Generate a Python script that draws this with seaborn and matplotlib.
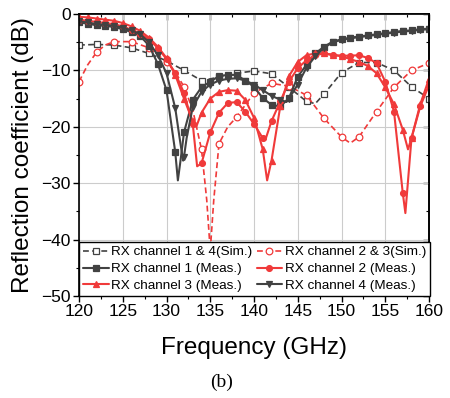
import numpy as np
import pandas as pd
import matplotlib
matplotlib.use("Agg")
import matplotlib.pyplot as plt
import seaborn as sns
from matplotlib.ticker import MultipleLocator

# ---------------- data ----------------
f_sim14 = [120, 122, 124, 126, 128, 130, 132, 134, 136, 138, 140, 142, 144, 146, 147, 148, 150, 152, 154, 156, 158, 160]
s_sim14 = [-5.5, -5.4, -5.5, -6.0, -7.0, -8.3, -10.0, -11.8, -11.2, -10.5, -10.1, -10.6, -13.0, -15.5, -15.9, -14.2, -10.4, -8.6, -8.6, -10.0, -12.9, -15.0]

f_sim23 = [120, 121, 122, 123, 124, 126, 128, 130, 131, 132, 133, 134, 134.6, 135, 135.4, 136, 137, 138, 140, 142, 144, 146, 148, 150, 151, 152, 154, 156, 158, 160]
s_sim23 = [-12.0, -9.0, -6.8, -5.5, -4.9, -4.9, -6.0, -8.5, -10.3, -12.9, -17.0, -24.0, -33.0, -42.0, -33.0, -23.0, -20.0, -18.3, -14.0, -12.3, -12.8, -14.4, -18.5, -21.8, -22.9, -21.8, -17.3, -13.0, -10.0, -8.7]

f_ch1 = [120, 121, 122, 123, 124, 125, 126, 127, 128, 129, 130, 131, 131.3, 131.6, 132, 133, 134, 135, 136, 137, 138, 139, 140, 141, 142, 143, 144, 145, 146, 147, 148, 149, 150, 151, 152, 153, 154, 155, 156, 157, 158, 159, 160]
s_ch1 = [-1.5, -1.7, -2.0, -2.1, -2.3, -2.7, -3.2, -3.9, -5.6, -8.8, -13.5, -24.5, -29.5, -26.0, -21.0, -15.2, -13.0, -12.0, -11.0, -10.8, -10.8, -11.8, -12.9, -14.9, -16.1, -16.4, -14.9, -11.1, -9.0, -7.0, -5.8, -4.9, -4.5, -4.2, -4.0, -3.8, -3.6, -3.4, -3.2, -3.0, -2.9, -2.7, -2.6]

f_ch2 = [120, 121, 122, 123, 124, 125, 126, 127, 128, 129, 130, 131, 132, 133, 133.5, 134, 135, 136, 137, 138, 139, 140, 141, 141.3, 142, 143, 144, 145, 146, 147, 148, 149, 150, 151, 152, 153, 154, 155, 156, 157, 157.3, 158, 159, 160]
s_ch2 = [-1.0, -1.2, -1.4, -1.6, -1.8, -2.2, -2.8, -3.5, -4.5, -6.0, -8.0, -10.5, -14.0, -19.5, -27.0, -26.5, -21.0, -17.5, -15.8, -15.6, -17.3, -19.5, -22.0, -22.3, -19.0, -15.5, -12.0, -9.6, -8.2, -7.3, -7.0, -7.3, -7.4, -7.4, -7.3, -7.8, -8.7, -12.0, -17.3, -31.7, -35.3, -22.0, -16.4, -12.6]

f_ch3 = [120, 121, 122, 123, 124, 125, 126, 127, 128, 129, 130, 131, 132, 133, 133.4, 134, 135, 136, 137, 138, 139, 140, 141, 141.5, 142, 143, 144, 145, 146, 147, 148, 149, 150, 151, 152, 153, 154, 155, 156, 157, 157.6, 158, 159, 160]
s_ch3 = [-0.5, -0.6, -0.8, -1.0, -1.2, -1.6, -2.2, -3.0, -4.2, -5.8, -7.8, -10.8, -15.0, -19.0, -20.0, -17.5, -15.0, -13.8, -13.5, -13.6, -15.2, -18.4, -24.0, -29.5, -26.0, -16.4, -11.0, -8.5, -7.3, -7.0, -7.0, -7.2, -7.5, -8.0, -8.5, -9.2, -10.5, -13.0, -16.0, -20.5, -24.0, -22.0, -16.0, -11.5]

f_ch4 = [120, 121, 122, 123, 124, 125, 126, 127, 128, 129, 130, 131, 131.5, 131.9, 132, 132.3, 133, 134, 135, 136, 137, 138, 139, 140, 141, 142, 143, 143.7, 144, 145, 146, 147, 148, 149, 150, 151, 152, 153, 154, 155, 156, 157, 158, 159, 160]
s_ch4 = [-1.3, -1.5, -1.8, -1.9, -2.1, -2.4, -2.9, -3.6, -5.0, -7.3, -10.5, -16.7, -22.0, -26.0, -25.3, -22.0, -16.5, -13.8, -12.5, -11.8, -11.5, -11.4, -11.8, -12.5, -13.5, -14.5, -15.2, -15.6, -15.0, -12.5, -9.5, -7.5, -6.0, -5.0, -4.6, -4.3, -4.1, -3.9, -3.7, -3.5, -3.3, -3.1, -3.0, -2.8, -2.7]

labels = ["RX channel 1 & 4(Sim.)", "RX channel 2 & 3(Sim.)",
          "RX channel 1 (Meas.)", "RX channel 2 (Meas.)",
          "RX channel 3 (Meas.)", "RX channel 4 (Meas.)"]
x_ticks = [120, 125, 130, 135, 140, 145, 150, 155, 160]
y_ticks = [-50, -40, -30, -20, -10, 0]

# ---------------- style ----------------
sns.set_theme(style="white")
plt.rcParams['font.family'] = ['Liberation Sans', 'DejaVu Sans']

GRAY = "#424242"
RED = "#f03a3a"

fig = plt.figure(figsize=(4.5, 3.98), dpi=100)
ax = fig.add_axes([79/450, 102/398, 350/450, 282/398])


def marks(f, step):
    f = np.asarray(f, dtype=float)
    return list(np.where(np.isclose(np.mod(f, step), 0))[0])


series = [
    (f_sim14, s_sim14, GRAY, "s", "--", "white", 2, 1.2, 4.4),
    (f_sim23, s_sim23, RED, "o", "--", "white", 2, 1.2, 4.8),
    (f_ch1, s_ch1, GRAY, "s", "-", GRAY, 1, 1.5, 3.8),
    (f_ch2, s_ch2, RED, "o", "-", RED, 1, 1.5, 4.2),
    (f_ch3, s_ch3, RED, "^", "-", RED, 1, 1.5, 4.6),
    (f_ch4, s_ch4, GRAY, "v", "-", GRAY, 1, 1.5, 4.6),
]

handles = []
for (f, s, col, mk, ls, mfc, step, lw, ms), lab in zip(series, labels):
    df = pd.DataFrame({"f": f, "s": s})
    sns.lineplot(data=df, x="f", y="s", ax=ax, color=col, marker=mk,
                 linestyle=ls, linewidth=lw, markersize=ms,
                 markerfacecolor=mfc, markeredgecolor=col, markeredgewidth=0.9,
                 markevery=marks(f, step), estimator=None, sort=False,
                 label=lab, legend=False)
    line = ax.get_lines()[-1]
    if ls == "--":
        line.set_dashes((3.5, 2.0))
    handles.append(line)

ax.set_xlim(120, 160)
ax.set_ylim(-50, 0)
ax.set_xticks(x_ticks)
ax.set_yticks(y_ticks)
ax.xaxis.set_minor_locator(MultipleLocator(2.5))
ax.yaxis.set_minor_locator(MultipleLocator(5))
ax.grid(True, which="major", color="#cccccc", linewidth=0.8)
ax.set_axisbelow(True)

for sp in ax.spines.values():
    sp.set_visible(True)
    sp.set_color("black")
    sp.set_linewidth(1.2)

ax.tick_params(axis="both", which="both", colors="black", labelsize=12.5,
               direction="out", left=True, bottom=True, top=False, right=False)
ax.tick_params(which="major", length=4, width=1.0)
ax.tick_params(which="minor", length=2.5, width=0.8)
ax.tick_params(axis="both", which="major", pad=2)

# mirrored inward ticks on top/right
axr = ax.secondary_yaxis("right")
axr.set_yticks(y_ticks)
axr.yaxis.set_minor_locator(MultipleLocator(5))
axr.tick_params(which="both", direction="in", labelright=False, colors="black")
axr.tick_params(which="major", length=4, width=1.0)
axr.tick_params(which="minor", length=2.5, width=0.8)
axt = ax.secondary_xaxis("top")
axt.set_xticks(x_ticks)
axt.xaxis.set_minor_locator(MultipleLocator(2.5))
axt.tick_params(which="both", direction="in", labeltop=False, colors="black")
axt.tick_params(which="major", length=4, width=1.0)
axt.tick_params(which="minor", length=2.5, width=0.8)
for a in (axr, axt):
    for sp in a.spines.values():
        sp.set_linewidth(1.2)
        sp.set_color("black")

ax.set_xlabel("Frequency (GHz)", fontsize=17.5, labelpad=13, color="black")
ax.set_ylabel("Reflection coefficient (dB)", fontsize=17.5, labelpad=5, color="black")

order = [0, 2, 4, 1, 3, 5]
leg = ax.legend([handles[i] for i in order], [labels[i] for i in order],
                ncol=2, loc="lower left", bbox_to_anchor=(0, 0),
                fontsize=9.7, frameon=True, fancybox=False,
                framealpha=1, edgecolor="black", borderpad=0.3,
                labelspacing=0.32, handlelength=1.9, handletextpad=0.2,
                columnspacing=0.3, borderaxespad=0)
leg.get_frame().set_linewidth(1.0)
for t in leg.get_texts():
    t.set_color("black")

fig.text(222/450, 1 - 382/398, "(b)", family=["Liberation Serif", "DejaVu Serif"],
         fontsize=14, ha="center", va="center", color="black")

fig.savefig("out.png", dpi=100)
